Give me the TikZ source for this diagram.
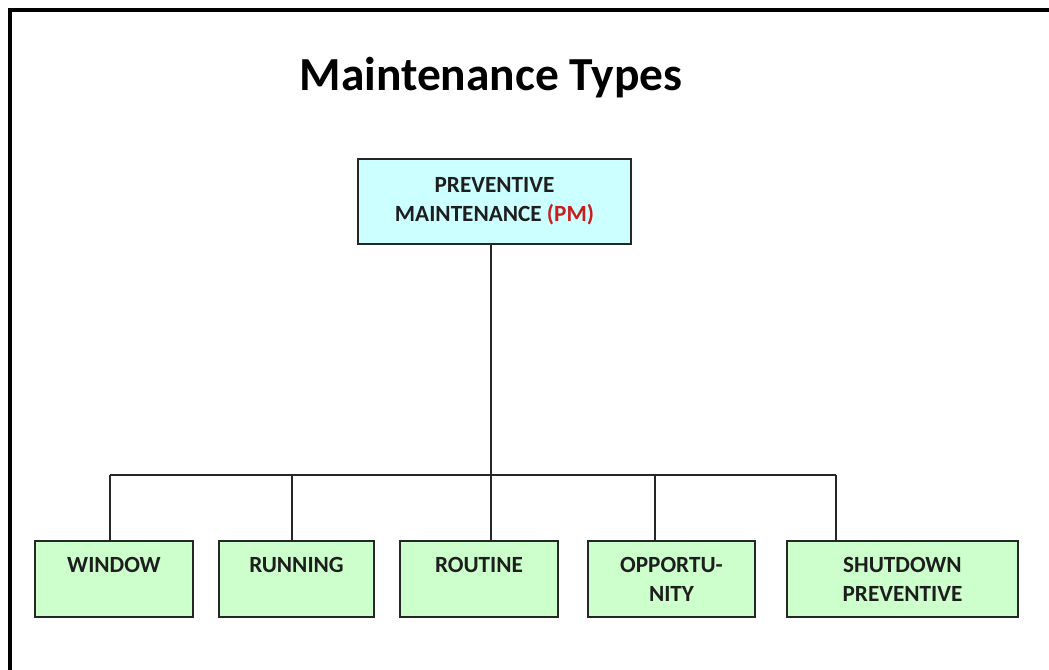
\documentclass[tikz,border=0pt]{standalone}
\usepackage{fontspec}
\setmainfont{Carlito}
\definecolor{pmred}{RGB}{200,30,30}
\definecolor{boxcyan}{RGB}{204,255,255}
\definecolor{boxgreen}{RGB}{204,255,204}
\definecolor{ink}{RGB}{30,30,30}
\begin{document}
\begin{tikzpicture}[x=0.02cm,y=-0.02cm,
        head/.style={draw=black!85,rectangle,thick,fill=boxcyan,minimum width=5.46cm,minimum height=1.7cm,align=center,text=ink,font=\fontsize{13.2}{16.4}\selectfont\bfseries},
        kind/.style={draw=black!85,rectangle,thick,fill=boxgreen,minimum height=1.52cm,align=center,text=ink,font=\fontsize{13.2}{16.4}\selectfont\bfseries},
        link/.style={draw=black!85,thick}
      ]
      \useasboundingbox (0,0) rectangle (1049,670);
      \draw[line width=1.8pt] (10,672) -- (10,10) -- (1051,10);
      \node (title) at (491,78) {\fontsize{27}{32}\selectfont\bfseries Maintenance Types};
      \node[head] (pm) at (494.5,201.5) {PREVENTIVE\\MAINTENANCE \textcolor{pmred}{(PM)}};
      \node[kind,minimum width=3.16cm] (window) at (114,579) {WINDOW\\\mbox{}};
      \node[kind,minimum width=3.10cm] (running) at (296.5,579) {RUNNING\\\mbox{}};
      \node[kind,minimum width=3.16cm] (routine) at (479,579) {ROUTINE\\\mbox{}};
      \node[kind,minimum width=3.34cm] (opportunity) at (671.5,579) {OPPORTU-\\NITY};
      \node[kind,minimum width=4.62cm] (shutdown) at (902.5,579) {SHUTDOWN\\PREVENTIVE};
      % bus
      \coordinate (hub) at (491,475);
      \coordinate (busw) at (110,475);
      \coordinate (busr) at (292,475);
      \coordinate (buso) at (655,475);
      \coordinate (buss) at (836,475);
      \draw[link] (pm.south -| hub) -- (hub);
      \draw[link] (busw) -- (buss);
      \draw[link] (busw) -- (window.north -| busw);
      \draw[link] (busr) -- (running.north -| busr);
      \draw[link] (hub) -- (routine.north -| hub);
      \draw[link] (buso) -- (opportunity.north -| buso);
      \draw[link] (buss) -- (shutdown.north -| buss);
    \end{tikzpicture}
\end{document}
